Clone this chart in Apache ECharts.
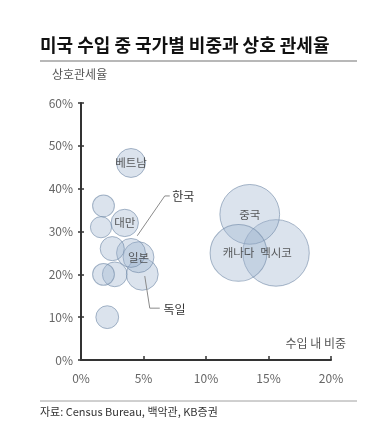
<!DOCTYPE html>
<html><head><meta charset="utf-8">
<script src="https://cdn.jsdelivr.net/npm/echarts@6/dist/echarts.min.js"></script>
<style>html,body{margin:0;padding:0;background:#fff}#c{width:392px;height:424px}</style>
</head><body><div id="c"></div>
<script>
// Data (import share %, reciprocal tariff %)
const countries = ['멕시코','중국','캐나다','독일','일본','베트남','한국','대만','인도','이탈리아','프랑스','스위스','태국','영국'];
const importShare = [15.6, 13.5, 12.6, 4.9, 4.6, 4.0, 4.0, 3.5, 2.5, 2.7, 1.8, 1.6, 1.8, 2.1];
const tariff      = [25,   34,   25,   20,  24,  46,  25,  32,  26,  20,  20,  31,  36,  10];
const labeled     = ['멕시코','중국','캐나다','일본','베트남','대만'];
const xTicks = [0, 5, 10, 15, 20];
const yTicks = [0, 10, 20, 30, 40, 50, 60];

const FONT = '"Noto Sans CJK KR", "Noto Sans", sans-serif';
const chart = echarts.init(document.getElementById('c'));
const data = countries.map((n, i) => ({ name: n, value: [importShare[i], tariff[i]] }));

chart.setOption({
  animation: false,
  textStyle: { fontFamily: FONT },
  grid: { left: 81, right: 61, top: 103, bottom: 64 },
  xAxis: {
    type: 'value', min: xTicks[0], max: xTicks[xTicks.length - 1], interval: 5,
    splitLine: { show: false },
    axisLine: { lineStyle: { color: '#333', width: 2 } },
    axisTick: { inside: true, length: 4, lineStyle: { color: '#333', width: 1.5 } },
    axisLabel: { formatter: '{value}%', color: '#666', fontSize: 12, margin: 12, fontFamily: FONT }
  },
  yAxis: [{
    type: 'value', min: yTicks[0], max: yTicks[yTicks.length - 1], interval: 10,
    splitLine: { show: false },
    axisLine: { lineStyle: { color: '#333', width: 2 } },
    axisTick: { length: 3, lineStyle: { color: '#333', width: 1.5 } },
    axisLabel: { formatter: '{value}%', color: '#666', fontSize: 12, margin: 8, fontFamily: FONT }
  }, {
    type: 'value', position: 'left', min: yTicks[0], max: yTicks[yTicks.length - 1], interval: 10,
    splitLine: { show: false }, axisLine: { show: false },
    axisTick: { inside: true, length: 3, lineStyle: { color: '#333', width: 1.5 } },
    axisLabel: { show: false }
  }],
  series: [{
    type: 'scatter',
    data: data,
    symbolSize: v => 2 * (8 + 1.62 * v[0]),
    itemStyle: { color: 'rgba(155,178,206,0.45)', borderColor: 'rgba(110,135,165,0.75)', borderWidth: 1 },
    label: {
      show: true, position: 'inside', color: '#333', fontSize: 11.5, fontFamily: FONT,
      formatter: p => labeled.indexOf(p.name) >= 0 ? p.name : ''
    },
    z: 2
  }]
});

// annotations in data coordinates
const ann = [
  { text: '한국', at: [7.3, 38.3], path: [[7.1, 38.3], [6.7, 38.3], [4.5, 29]] },
  { text: '독일', at: [6.6, 11.8], path: [[5.1, 19.6], [5.5, 12.1], [6.3, 12.1]] }
];
const px = p => chart.convertToPixel({ xAxisIndex: 0, yAxisIndex: 0 }, p);
const graphics = [];
ann.forEach(a => {
  const pt = px(a.at);
  graphics.push({ type: 'text', x: pt[0], y: pt[1], z: 10,
    style: { text: a.text, fill: '#333', font: '12px ' + FONT, textAlign: 'left', textVerticalAlign: 'middle' } });
  graphics.push({ type: 'polyline', z: 10, shape: { points: a.path.map(px) },
    style: { stroke: '#8a8a8a', lineWidth: 1, fill: null } });
});
graphics.push(
  { type: 'text', x: 40, y: 45, style: { text: '미국 수입 중 국가별 비중과 상호 관세율', fill: '#111', font: 'bold 18px ' + FONT, textVerticalAlign: 'middle' } },
  { type: 'line', shape: { x1: 40, y1: 61, x2: 357, y2: 61 }, style: { stroke: '#a0a0a0', lineWidth: 1.5 } },
  { type: 'text', x: 52, y: 74, style: { text: '상호관세율', fill: '#555', font: '12px ' + FONT, textVerticalAlign: 'middle' } },
  { type: 'text', x: 346, y: 343, style: { text: '수입 내 비중', fill: '#555', font: '12px ' + FONT, textAlign: 'right', textVerticalAlign: 'middle' } },
  { type: 'line', shape: { x1: 40, y1: 401, x2: 357, y2: 401 }, style: { stroke: '#a0a0a0', lineWidth: 1 } },
  { type: 'text', x: 40, y: 412, style: { text: '자료: Census Bureau, 백악관, KB증권', fill: '#333', font: '11px ' + FONT, textVerticalAlign: 'middle' } }
);
chart.setOption({ graphic: graphics });
</script></body></html>
